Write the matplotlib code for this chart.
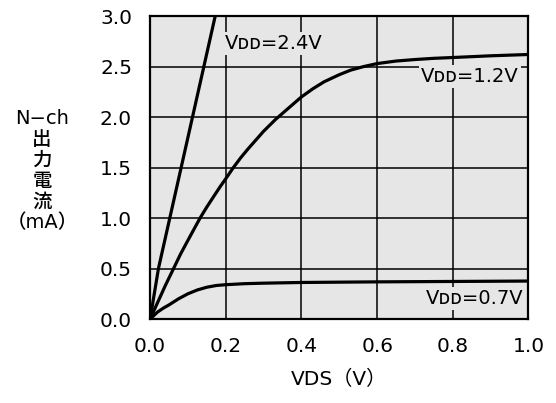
import matplotlib.pyplot as plt

plt.rcParams['font.family'] = ['DejaVu Sans', 'Noto Sans CJK JP']

# N-ch output current (mA) vs VDS (V) for three supply voltages
vds_24 = [0.0, 0.022, 0.052, 0.082, 0.112, 0.142, 0.172]
id_24 = [0.0, 0.5, 1.0, 1.5, 2.0, 2.5, 3.0]

vds_12 = [0.0, 0.02, 0.04, 0.062, 0.08, 0.1, 0.116, 0.132, 0.15, 0.17,
          0.185, 0.2, 0.22, 0.24, 0.26, 0.28, 0.3, 0.331, 0.36, 0.4,
          0.43, 0.46, 0.5, 0.53, 0.564, 0.6, 0.65, 0.7, 0.75, 0.8,
          0.9, 1.0]
id_12 = [0.0, 0.165, 0.33, 0.5, 0.64, 0.78, 0.89, 1.0, 1.11, 1.225,
         1.31, 1.39, 1.5, 1.6, 1.69, 1.775, 1.86, 1.975, 2.07, 2.2,
         2.28, 2.35, 2.42, 2.465, 2.5, 2.53, 2.555, 2.57, 2.582, 2.59,
         2.607, 2.62]

vds_07 = [0.0, 0.02, 0.035, 0.05, 0.075, 0.1, 0.125, 0.15, 0.175, 0.2,
          0.25, 0.3, 0.4, 0.6, 0.8, 1.0]
id_07 = [0.0, 0.07, 0.108, 0.14, 0.2, 0.25, 0.288, 0.315, 0.332, 0.34,
         0.35, 0.355, 0.362, 0.368, 0.372, 0.376]

xticks = [0.0, 0.2, 0.4, 0.6, 0.8, 1.0]
yticks = [0.0, 0.5, 1.0, 1.5, 2.0, 2.5, 3.0]

fig = plt.figure(figsize=(5.56, 4.03), dpi=100)
ax = fig.add_axes([0.270, 0.2084, 0.6805, 0.7516])
bg = '#e6e6e6'
ax.set_facecolor(bg)

ax.set_xlim(0, 1.0)
ax.set_ylim(0, 3.0)
ax.set_xticks(xticks)
ax.set_yticks(yticks)
ax.set_xticklabels([f'{v:.1f}' for v in xticks])
ax.set_yticklabels([f'{v:.1f}' for v in yticks])
ax.tick_params(length=0, pad=13, labelsize=14.5)
ax.grid(True, color='black', linewidth=1.1)
ax.set_axisbelow(True)
for s in ax.spines.values():
    s.set_linewidth(1.6)

for x, y in [(vds_24, id_24), (vds_12, id_12), (vds_07, id_07)]:
    ax.plot(x, y, color='black', linewidth=2.3, solid_joinstyle='round')

box = dict(facecolor=bg, edgecolor='none', pad=1.5)
lbl = dict(fontsize=14, va='center', bbox=box, zorder=5)
ax.text(0.198, 2.73, 'Vᴅᴅ=2.4V', ha='left', **lbl)
ax.text(0.975, 2.40, 'Vᴅᴅ=1.2V', ha='right', **lbl)
ax.text(0.987, 0.20, 'Vᴅᴅ=0.7V', ha='right', **lbl)

ax.set_xlabel('VDS（V）', fontsize=14.5, labelpad=10)
fig.text(42 / 556, 1 - 171 / 403, 'N−ch\n出\n力\n電\n流\n（mA）',
         ha='center', va='center', fontsize=14, linespacing=1.12,
         fontweight='medium')

fig.savefig('out.png', dpi=100)
